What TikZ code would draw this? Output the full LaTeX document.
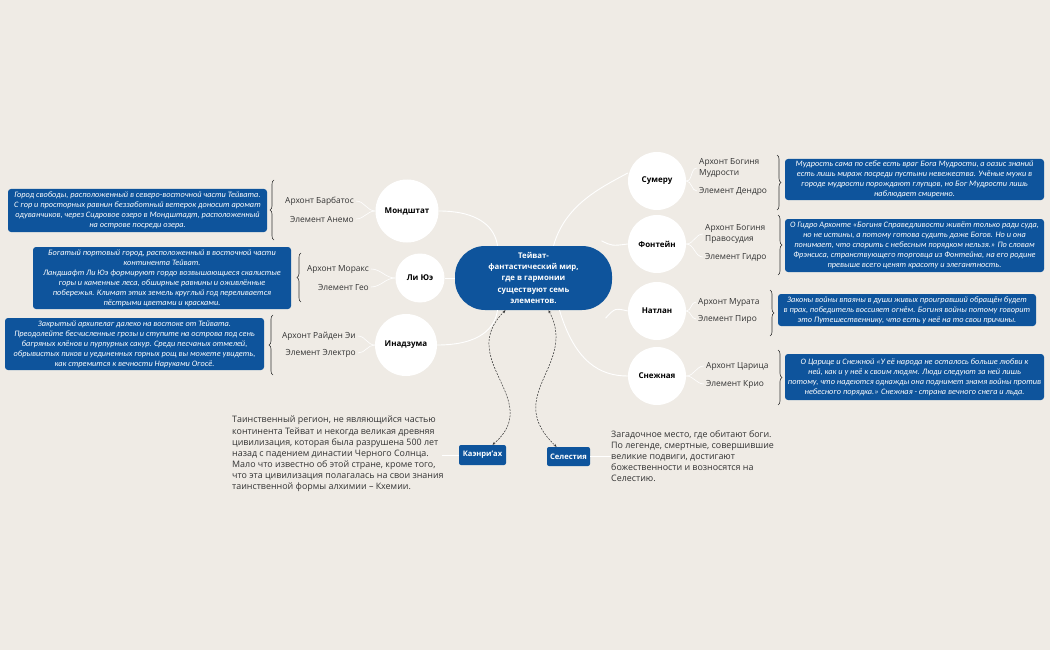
\documentclass[tikz,border=0pt]{standalone}
\usepackage{fontspec}
\setmainfont{Open Sans}
\newfontfamily\notefont{Carlito}
\usetikzlibrary{decorations.pathreplacing,arrows.meta}
\definecolor{bg}{RGB}{239,235,229}
\definecolor{blu}{RGB}{14,84,156}
\definecolor{txt}{RGB}{51,51,51}
\tikzset{
  note/.style={fill=blu, rounded corners=3pt, text=white, align=center, inner sep=0pt,
    font=\notefont\itshape\fontsize{8.3}{10}\selectfont},
  city/.style={circle, fill=white, text=black, inner sep=0pt, font=\bfseries\fontsize{8}{10}\selectfont},
  lab/.style={text=txt, inner sep=0pt, font=\fontsize{8.4}{11.5}\selectfont},
  conn/.style={white, line width=0.9pt},
  brc/.style={decorate, decoration={brace, amplitude=4pt}, txt, line width=0.6pt},
  tag/.style={fill=blu, rounded corners=2pt, text=white, inner sep=0pt, font=\bfseries\fontsize{7.6}{10}\selectfont},
  desc/.style={text=txt, inner sep=0pt, align=left, font=\fontsize{8.9}{11.1}\selectfont},
  dsh/.style={black!80, line width=0.5pt, dash pattern=on 2pt off 1.2pt,
    {Stealth[length=3pt,width=2.5pt]}-{Stealth[length=3pt,width=2.5pt]}}
}
\begin{document}
\begin{tikzpicture}[x=1pt,y=-1pt]
\fill[bg] (0,0) rectangle (1050,650);
\useasboundingbox (0,0) rectangle (1050,650);

% center
\node[fill=blu, rounded corners=30pt, minimum width=157, minimum height=64, text=white, align=center,
  inner sep=0pt, font=\bfseries\fontsize{7.8}{11.3}\selectfont] (c) at (533.5,278)
  {Тейват-\\фантастический мир,\\где в гармонии\\существуют семь\\элементов.};

% cities
\node[city, minimum size=63] (mond) at (407,211) {Мондштат};
\node[city, minimum size=49] (liyue) at (420,278) {Ли Юэ};
\node[city, minimum size=62] (ina) at (406,345) {Инадзума};
\node[city, minimum size=58] (sum) at (657,181) {Сумеру};
\node[city, minimum size=58] (fon) at (657,244) {Фонтейн};
\node[city, minimum size=58] (nat) at (657,311) {Натлан};
\node[city, minimum size=58] (sne) at (657,376) {Снежная};

% center connectors
\draw[conn] (mond.east) .. controls (480,211) and (495,228) .. ([xshift=-36pt]c.north);
\draw[conn] (liyue.east) -- (c.west);
\draw[conn] (ina.east) .. controls (480,345) and (495,328) .. ([xshift=-36pt]c.south);
\draw[conn] ([xshift=20pt]c.north) .. controls (565,205) and (600,188) .. ([yshift=8pt]sum.west);
\draw[conn] ([xshift=68pt,yshift=5pt]c.north) .. controls (612,246) .. (fon.west);
\draw[conn] ([xshift=72pt,yshift=-8pt]c.south) .. controls (615,308) .. (nat.west);
\draw[conn] ([xshift=26pt]c.south) .. controls (575,362) and (600,376) .. (sne.west);

% left labels
\node[lab, anchor=east] (mA) at (354,201) {Архонт Барбатос};
\node[lab, anchor=east] (mE) at (354,219) {Элемент Анемо};
\node[lab, anchor=east] (lA) at (369,269) {Архонт Моракс};
\node[lab, anchor=east] (lE) at (369,287) {Элемент Гео};
\node[lab, anchor=east] (iA) at (356,336) {Архонт Райден Эи};
\node[lab, anchor=east] (iE) at (356,353) {Элемент Электро};
\foreach \p/\k in {mond/mA,mond/mE,liyue/lA,liyue/lE,ina/iA,ina/iE}
  \draw[conn, line width=0.6pt] (\p.west) to[out=180,in=0] ([xshift=2pt]\k.east);

% right labels
\node[lab, anchor=west, align=left] (sA) at (699,168) {Архонт Богиня\\Мудрости};
\node[lab, anchor=west] (sE) at (699,191) {Элемент Дендро};
\node[lab, anchor=west, align=left] (fA) at (705,234) {Архонт Богиня\\Правосудия};
\node[lab, anchor=west] (fE) at (705,257) {Элемент Гидро};
\node[lab, anchor=west] (nA) at (698,302) {Архонт Мурата};
\node[lab, anchor=west] (nE) at (698,319) {Элемент Пиро};
\node[lab, anchor=west] (zA) at (706,366) {Архонт Царица};
\node[lab, anchor=west] (zE) at (706,384) {Элемент Крио};
\foreach \p/\k in {sum/sA,sum/sE,fon/fA,fon/fE,nat/nA,nat/nE,sne/zA,sne/zE}
  \draw[conn, line width=0.6pt] (\p.east) to[out=0,in=180] ([xshift=-2pt]\k.west);

% braces
\draw[brc] (274,240) -- (274,180);
\draw[brc] (301,302) -- (301,253);
\draw[brc] (273,375) -- (273,315);
\draw[brc] (777,155) -- (777,210);
\draw[brc] (778,215) -- (778,275);
\draw[brc] (770,290) -- (770,336);
\draw[brc] (778,350) -- (778,405);

% notes
\node[note, minimum width=259, minimum height=43] (nm) at (137.5,210.5)
 {Город свободы, расположенный в северо-восточной части Тейвата.\\
  С гор и просторных равнин беззаботный ветерок доносит аромат\\
  одуванчиков, через Сидровое озеро в Мондштадт, расположенный\\
  на острове посреди озера.};
\node[note, minimum width=258, minimum height=62] (nl) at (162,278)
 {Богатый портовый город, расположенный в восточной части\\
  континента Тейват.\\
  Ландшафт Ли Юэ формируют гордо возвышающиеся скалистые\\
  горы и каменные леса, обширные равнины и оживлённые\\
  побережья. Климат этих земель круглый год переливается\\
  пёстрыми цветами и красками.};
\node[note, minimum width=259, minimum height=52] (ni) at (134.5,344)
 {Закрытый архипелаг далеко на востоке от Тейвата.\\
  Преодолейте бесчисленные грозы и ступите на острова под сень\\
  багряных клёнов и пурпурных сакур. Среди песчаных отмелей,\\
  обрывистых пиков и уединенных горных рощ вы можете увидеть,\\
  как стремится к вечности Наруками Огосё.};
\node[note, minimum width=259, minimum height=41] (ns) at (914.5,179.5)
 {Мудрость сама по себе есть враг Бога Мудрости, а оазис знаний\\
  есть лишь мираж посреди пустыни невежества. Учёные мужи в\\
  городе мудрости порождают глупцов, но Бог Мудрости лишь\\
  наблюдает смиренно.};
\node[note, minimum width=259, minimum height=53] (nf) at (914.5,245.5)
 {О Гидро Архонте «Богиня Справедливости живёт только ради суда,\\
  но не истины, а потому готова судить даже Богов. Но и она\\
  понимает, что спорить с небесным порядком нельзя.» По словам\\
  Фрэнсиса, странствующего торговца из Фонтейна, на его родине\\
  превыше всего ценят красоту и элегантность.};
\node[note, minimum width=258, minimum height=32] (nn) at (907,310)
 {Законы войны впаяны в души живых проигравший обращён будет\\
  в прах, победитель воссияет огнём. Богиня войны потому говорит\\
  это Путешественнику, что есть у неё на то свои причины.};
\node[note, minimum width=259, minimum height=46] (nz) at (914.5,377)
 {О Царице и Снежной «У её народа не осталось больше любви к\\
  ней, как и у неё к своим людям. Люди следуют за ней лишь\\
  потому, что надеются однажды она поднимет знамя войны против\\
  небесного порядка.» Снежная - страна вечного снега и льда.};

% bottom
\node[tag, minimum width=47, minimum height=20] (kae) at (482.5,455) {Каэнри’ах};
\node[tag, minimum width=43, minimum height=19] (cel) at (568.5,456.5) {Селестия};
\node[desc, anchor=north west] (kd) at (232,416)
 {Таинственный регион, не являющийся частью\\
  континента Тейват и некогда великая древняя\\
  цивилизация, которая была разрушена 500 лет\\
  назад с падением династии Черного Солнца.\\
  Мало что известно об этой стране, кроме того,\\
  что эта цивилизация полагалась на свои знания\\
  таинственной формы алхимии – Кхемии.};
\node[desc, anchor=north west] (cd) at (611,430)
 {Загадочное место, где обитают боги.\\
  По легенде, смертные, совершившие\\
  великие подвиги, достигают\\
  божественности и возносятся на\\
  Селестию.};
\draw[conn, line width=0.7pt] (kae.west) -- ++(-17,0);
\draw[conn, line width=0.7pt] (cel.east) -- (cd.west |- cel.east);

\draw[dsh] ([xshift=-28pt]c.south) .. controls (455,360) and (545,400) .. ([xshift=10pt]kae.north);
\draw[dsh] ([xshift=15pt]c.south) .. controls (578,365) and (502,395) .. ([xshift=-12pt]cel.north);
\end{tikzpicture}
\end{document}
